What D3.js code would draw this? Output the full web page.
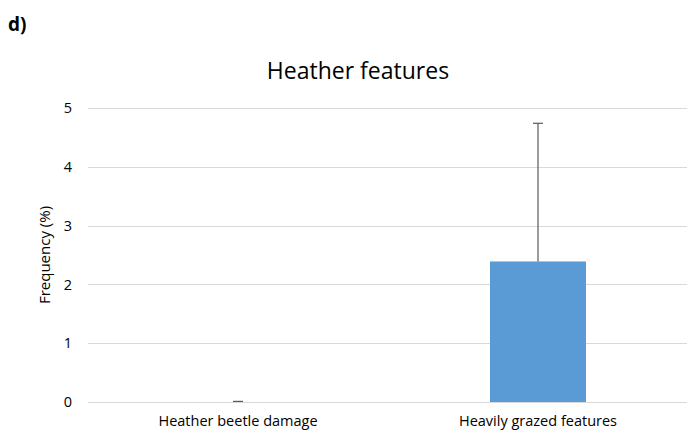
<!DOCTYPE html>
<html>
<head>
<meta charset="utf-8">
<script src="https://cdn.jsdelivr.net/npm/d3@7"></script>
<style>
  body { margin: 0; background: #fff; overflow: hidden; }
  svg { display: block; }
  text { font-family: "Open Sans", "Noto Sans", sans-serif; fill: #000; }
</style>
</head>
<body>
<svg id="chart"></svg>
<script>
const categories = ["Heather beetle damage", "Heavily grazed features"];
const values = [0, 2.39];
const errors = [0.01, 2.35];
const yTicks = [0, 1, 2, 3, 4, 5];

const width = 687, height = 437;
const margin = {top: 108, right: 0, bottom: 35, left: 88};

const svg = d3.select('#chart')
    .attr('width', width)
    .attr('height', height);

const innerWidth = width - margin.left - margin.right + 1;
const innerHeight = height - margin.top - margin.bottom;

const chart = svg.append('g')
    .attr('transform', `translate(${margin.left}, ${margin.top})`);

const xscale = d3.scaleBand()
    .domain(categories)
    .range([0, innerWidth])
    .paddingInner(0.68)
    .paddingOuter(0.34);

const yscale = d3.scaleLinear()
    .domain([0, 5])
    .range([innerHeight, 0]);

// gridlines
chart.selectAll('.grid')
    .data(yTicks)
    .enter()
    .append('line')
    .attr('x1', 0)
    .attr('x2', innerWidth)
    .attr('y1', d => Math.round(yscale(d)) + 0.5)
    .attr('y2', d => Math.round(yscale(d)) + 0.5)
    .attr('stroke', '#d9d9d9')
    .attr('stroke-width', 1);

// y axis labels
const yaxis = d3.axisLeft(yscale)
    .tickValues(yTicks)
    .tickFormat(d3.format('d'))
    .tickSize(0)
    .tickPadding(16);
chart.append('g')
    .call(yaxis)
    .call(g => g.select('.domain').remove())
    .selectAll('text')
    .attr('font-size', '14.5px')
    .attr('font-family', '"Open Sans", sans-serif')
    .attr('fill', '#000');

// x axis labels
const xaxis = d3.axisBottom(xscale).tickSize(0).tickPadding(14);
chart.append('g')
    .attr('transform', `translate(0, ${innerHeight})`)
    .call(xaxis)
    .call(g => g.select('.domain').remove())
    .selectAll('text')
    .attr('font-size', '14.5px')
    .attr('font-family', '"Open Sans", sans-serif')
    .attr('fill', '#000');

const data = categories.map((c, i) => ({cat: c, v: values[i], e: errors[i]}));

// bars
chart.selectAll('.bar')
    .data(data)
    .enter()
    .append('rect')
    .attr('x', d => xscale(d.cat))
    .attr('y', d => yscale(d.v))
    .attr('width', xscale.bandwidth())
    .attr('height', d => innerHeight - yscale(d.v))
    .attr('fill', '#5b9bd5');

// error bars
const eb = chart.selectAll('.err')
    .data(data)
    .enter()
    .append('g')
    .attr('stroke', '#595959')
    .attr('stroke-width', 1.2);

eb.append('line')
    .attr('x1', d => xscale(d.cat) + xscale.bandwidth() / 2)
    .attr('x2', d => xscale(d.cat) + xscale.bandwidth() / 2)
    .attr('y1', d => yscale(d.v))
    .attr('y2', d => yscale(d.v + d.e));

eb.append('line')
    .attr('x1', d => xscale(d.cat) + xscale.bandwidth() / 2 - 5)
    .attr('x2', d => xscale(d.cat) + xscale.bandwidth() / 2 + 5)
    .attr('y1', d => yscale(d.v + d.e))
    .attr('y2', d => yscale(d.v + d.e));

// titles
svg.append('text')
    .attr('x', 358)
    .attr('y', 79)
    .attr('text-anchor', 'middle')
    .attr('font-size', '23px')
    .text('Heather features');

svg.append('text')
    .attr('transform', 'rotate(-90)')
    .attr('x', -255)
    .attr('y', 50)
    .attr('text-anchor', 'middle')
    .attr('font-size', '15px')
    .text('Frequency (%)');

svg.append('text')
    .attr('x', 8)
    .attr('y', 31)
    .attr('font-size', '19px')
    .attr('font-weight', 'bold')
    .attr('font-family', '"Liberation Sans", Arial, sans-serif')
    .text('d)');
</script>
</body>
</html>
